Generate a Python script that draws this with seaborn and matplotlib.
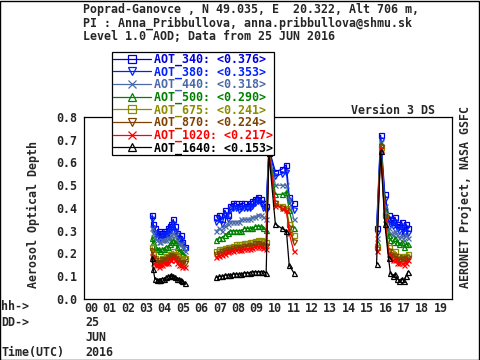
import numpy as np
import pandas as pd
import seaborn as sns
import matplotlib.pyplot as plt
from matplotlib.lines import Line2D
from matplotlib.patches import Rectangle

# time (hours UTC) of each measurement, per segment of the day
t_seg1 = [3.70, 3.76, 3.85, 3.95, 4.05, 4.15, 4.25, 4.35, 4.45, 4.55, 4.65, 4.75, 4.85, 4.95, 5.05, 5.15, 5.25, 5.35, 5.50]
t_seg2 = [7.20, 7.35, 7.50, 7.65, 7.80, 7.95, 8.10, 8.25, 8.40, 8.55, 8.70, 8.85, 9.00, 9.15, 9.30, 9.45, 9.60, 9.75, 9.90,
          10.05, 10.40, 10.75, 11.00, 11.15, 11.40]
t_seg3 = [15.90, 16.12, 16.35, 16.55, 16.65, 16.78, 16.90, 17.02, 17.14, 17.26, 17.38, 17.50, 17.60]

aot_340 = [0.37, 0.33, 0.31, 0.29, 0.30, 0.28, 0.29, 0.30, 0.29, 0.31, 0.32, 0.33, 0.35, 0.32, 0.29, 0.27, 0.28, 0.25, 0.23,
           0.36, 0.37, 0.35, 0.39, 0.37, 0.41, 0.42, 0.42, 0.41, 0.42, 0.42, 0.41, 0.42, 0.43, 0.44, 0.45, 0.44, 0.42, 0.41,
           0.66, 0.56, 0.57, 0.59, 0.45, 0.42,
           0.31, 0.72, 0.46, 0.37, 0.35, 0.34, 0.36, 0.33, 0.32, 0.34, 0.30, 0.33, 0.31]
aot_380 = [0.35, 0.31, 0.29, 0.27, 0.28, 0.27, 0.27, 0.28, 0.28, 0.29, 0.30, 0.31, 0.33, 0.30, 0.28, 0.26, 0.26, 0.24, 0.22,
           0.34, 0.35, 0.33, 0.37, 0.35, 0.39, 0.40, 0.40, 0.39, 0.40, 0.40, 0.40, 0.40, 0.41, 0.42, 0.43, 0.42, 0.40, 0.39,
           0.66, 0.54, 0.55, 0.56, 0.43, 0.39,
           0.29, 0.70, 0.44, 0.35, 0.33, 0.32, 0.34, 0.31, 0.30, 0.32, 0.29, 0.31, 0.29]
aot_440 = [0.31, 0.29, 0.27, 0.26, 0.25, 0.25, 0.26, 0.26, 0.26, 0.27, 0.27, 0.28, 0.29, 0.28, 0.26, 0.24, 0.24, 0.23, 0.21,
           0.30, 0.31, 0.30, 0.32, 0.33, 0.34, 0.34, 0.34, 0.34, 0.35, 0.35, 0.35, 0.35, 0.36, 0.36, 0.37, 0.37, 0.36, 0.35,
           0.65, 0.50, 0.50, 0.50, 0.44, 0.35,
           0.27, 0.69, 0.41, 0.31, 0.29, 0.28, 0.30, 0.28, 0.27, 0.28, 0.26, 0.28, 0.27]
aot_500 = [0.27, 0.25, 0.23, 0.22, 0.22, 0.21, 0.22, 0.22, 0.23, 0.23, 0.24, 0.25, 0.26, 0.25, 0.23, 0.21, 0.21, 0.20, 0.19,
           0.26, 0.27, 0.27, 0.28, 0.29, 0.30, 0.30, 0.30, 0.30, 0.30, 0.31, 0.31, 0.31, 0.31, 0.32, 0.32, 0.32, 0.31, 0.305,
           0.65, 0.46, 0.46, 0.47, 0.39, 0.31,
           0.25, 0.68, 0.39, 0.28, 0.26, 0.25, 0.27, 0.25, 0.24, 0.25, 0.23, 0.24, 0.24]
aot_675 = [0.23, 0.20, 0.18, 0.17, 0.17, 0.17, 0.18, 0.18, 0.19, 0.19, 0.20, 0.20, 0.21, 0.20, 0.19, 0.18, 0.18, 0.17, 0.18,
           0.21, 0.22, 0.22, 0.225, 0.23, 0.23, 0.235, 0.24, 0.24, 0.24, 0.245, 0.245, 0.25, 0.25, 0.255, 0.26, 0.26, 0.255, 0.25,
           0.65, 0.42, 0.41, 0.40, 0.33, 0.28,
           0.23, 0.67, 0.37, 0.23, 0.21, 0.20, 0.21, 0.19, 0.18, 0.19, 0.18, 0.19, 0.20]
aot_870 = [0.21, 0.18, 0.17, 0.16, 0.16, 0.16, 0.17, 0.17, 0.17, 0.18, 0.18, 0.19, 0.19, 0.18, 0.17, 0.16, 0.16, 0.16, 0.16,
           0.195, 0.20, 0.205, 0.21, 0.215, 0.215, 0.22, 0.225, 0.225, 0.225, 0.23, 0.23, 0.235, 0.235, 0.24, 0.24, 0.24, 0.235, 0.235,
           0.65, 0.42, 0.40, 0.39, 0.31, 0.25,
           0.22, 0.67, 0.36, 0.21, 0.19, 0.18, 0.19, 0.17, 0.17, 0.18, 0.17, 0.17, 0.18]
aot_1020 = [0.19, 0.16, 0.15, 0.15, 0.14, 0.15, 0.15, 0.16, 0.16, 0.16, 0.17, 0.17, 0.18, 0.17, 0.16, 0.15, 0.15, 0.14, 0.14,
            0.185, 0.19, 0.195, 0.20, 0.205, 0.21, 0.21, 0.215, 0.215, 0.215, 0.22, 0.22, 0.22, 0.225, 0.23, 0.23, 0.23, 0.225, 0.22,
            0.64, 0.41, 0.40, 0.39, 0.29, 0.21,
            0.21, 0.66, 0.35, 0.20, 0.18, 0.17, 0.17, 0.16, 0.16, 0.16, 0.15, 0.16, 0.17]
aot_1640 = [0.18, 0.13, 0.09, 0.085, 0.085, 0.085, 0.09, 0.09, 0.095, 0.10, 0.10, 0.105, 0.10, 0.095, 0.09, 0.09, 0.085, 0.08, 0.07,
            0.095, 0.10, 0.10, 0.105, 0.105, 0.105, 0.11, 0.11, 0.11, 0.11, 0.115, 0.115, 0.115, 0.12, 0.12, 0.12, 0.12, 0.12, 0.115,
            0.64, 0.33, 0.31, 0.30, 0.15, 0.115,
            0.155, 0.65, 0.33, 0.18, 0.115, 0.10, 0.11, 0.09, 0.08, 0.09, 0.08, 0.10, 0.12]

bands = ['AOT_340', 'AOT_380', 'AOT_440', 'AOT_500', 'AOT_675', 'AOT_870', 'AOT_1020', 'AOT_1640']
band_means = ['0.376', '0.353', '0.318', '0.290', '0.241', '0.224', '0.217', '0.153']
colors = ['#0000dd', '#0020ff', '#4a6aa8', '#008000', '#8c8c00', '#804000', '#ff0000', '#000000']
markers = ['s', 'v', 'x', '^', 's', 'v', 'x', '^']
hour_labels = ['%02d' % h for h in range(20)]

times = t_seg1 + t_seg2 + t_seg3
segs = [1] * len(t_seg1) + [2] * len(t_seg2) + [3] * len(t_seg3)
series = [aot_340, aot_380, aot_440, aot_500, aot_675, aot_870, aot_1020, aot_1640]

sns.set_style('white')
plt.rcParams['font.family'] = ['DejaVu Sans Mono']
plt.rcParams['font.weight'] = 'bold'
fs = 8.4

fig = plt.figure(figsize=(4.8, 3.6), dpi=100)
ax = fig.add_axes([84 / 480, 61 / 360, 368 / 480, 182 / 360])

handles = []
for band, vals, c, m, mean in zip(bands, series, colors, markers, band_means):
    df = pd.DataFrame({'t': times, 'aod': vals, 'seg': segs})
    sns.lineplot(data=df, x='t', y='aod', units='seg', estimator=None, ax=ax,
                 color=c, marker=m, markersize=3.6, mfc='none', mec=c, mew=0.9,
                 linewidth=0.9, legend=False)
    handles.append(Line2D([], [], color=c, marker=m, markersize=6, mfc='none', mec=c,
                          mew=0.9, linewidth=0.9, label='%s: <%s>' % (band, mean)))

ax.set_xlim(0, 20)
ax.set_ylim(0, 0.8)
ax.set_yticks(np.arange(0, 0.81, 0.1))
ax.set_yticklabels(['%.1f' % v for v in np.arange(0, 0.81, 0.1)], fontsize=fs, fontweight='bold')
ax.set_xticks(range(20))
ax.set_xticklabels(hour_labels, fontsize=fs, fontweight='bold', ha='left')
ax.tick_params(axis='y', direction='in', length=7, width=0.9, pad=5)
ax.tick_params(axis='x', length=0, pad=2)
ax.set_xlabel('')
ax.set_ylabel('')
for sp in ax.spines.values():
    sp.set_color('black')
    sp.set_linewidth(0.9)

leg = ax.legend(handles=handles, loc='upper left', bbox_to_anchor=(112 / 480, 1 - 52 / 360),
                bbox_transform=fig.transFigure, borderaxespad=0, fancybox=False, framealpha=1,
                edgecolor='black', handlelength=3.3, handletextpad=0.2,
                labelspacing=-0.06, borderpad=0.08,
                prop={'family': 'DejaVu Sans Mono', 'weight': 'bold', 'size': fs})
leg.get_frame().set_linewidth(0.9)
for txt, c in zip(leg.get_texts(), colors):
    txt.set_color(c)

# header lines
header = ['Poprad-Ganovce , N 49.035, E  20.322, Alt 706 m,',
          'PI : Anna_Pribbullova, anna.pribbullova@shmu.sk',
          'Level 1.0 AOD; Data from 25 JUN 2016']
for i, line in enumerate(header):
    fig.text(83 / 480, 1 - (10 + 13.5 * i) / 360, line, fontsize=fs, fontweight='bold', va='center', ha='left')

fig.text(435 / 480, 1 - 111 / 360, 'Version 3 DS', fontsize=fs, fontweight='bold', va='center', ha='right')
fig.text(465 / 480, 1 - 197 / 360, 'AERONET Project, NASA GSFC', fontsize=fs, fontweight='bold',
         rotation=90, va='center', ha='center')
fig.text(33 / 480, 1 - 215 / 360, 'Aerosol Optical Depth', fontsize=fs, fontweight='bold',
         rotation=90, va='center', ha='center')

# date rows under the hour labels
rows = [('hh->', None, 306.5), ('DD->', '25', 322.5), ('', 'JUN', 337.5), ('Time(UTC)', '2016', 352.5)]
for left, right, ypx in rows:
    if left:
        fig.text(1 / 480, 1 - ypx / 360, left, fontsize=fs, fontweight='bold', va='center', ha='left')
    if right:
        fig.text(85 / 480, 1 - ypx / 360, right, fontsize=fs, fontweight='bold', va='center', ha='left')

fig.patches.append(Rectangle((0.001, 0.001), 0.997, 0.997, transform=fig.transFigure,
                             fill=False, edgecolor='black', linewidth=1))

fig.savefig('out.png', dpi=100)
